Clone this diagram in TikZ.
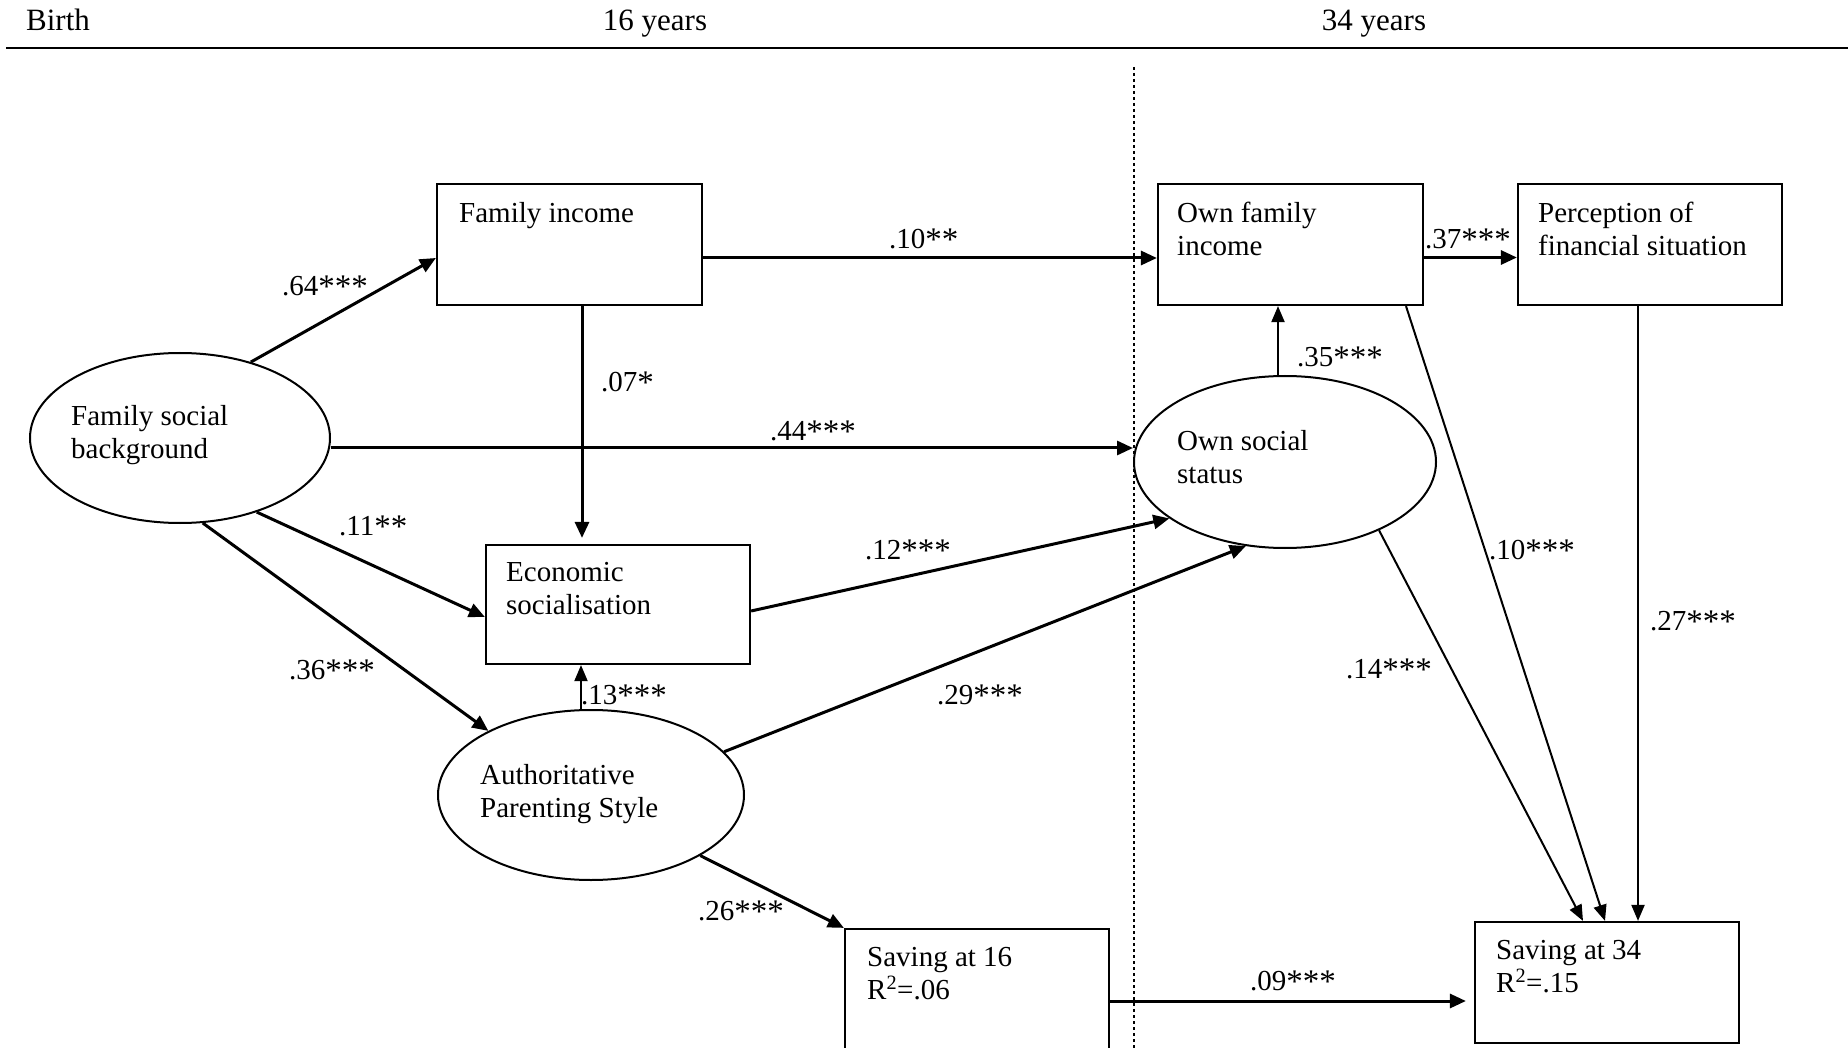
\documentclass[tikz,border=0pt]{standalone}
\usepackage{fontspec}
\setmainfont{Liberation Serif}
\usetikzlibrary{arrows.meta,shapes.geometric,fit}
\newcommand{\sigstars}[1]{{\fontsize{33}{33}\selectfont\raisebox{-2pt}{#1}}}
\begin{document}
\begin{tikzpicture}[x=1pt,y=-1pt,
  every node/.style={font=\fontsize{29}{33}\selectfont, inner sep=0pt},
  box/.style={draw, line width=2.2pt, inner sep=0pt, rectangle},
  oval/.style={draw, ellipse, line width=2pt, inner sep=0pt},
  txt/.style={anchor=base west, align=left},
  lab/.style={anchor=west},
  hdr/.style={font=\fontsize{31}{33}\selectfont},
  arr/.style={-{Triangle[length=16pt,width=14pt]}, line width=3pt},
  tarr/.style={-{Triangle[length=16pt,width=13pt]}, line width=2pt},
]
\useasboundingbox (0,0) rectangle (1848,1048);
\clip (0,0) rectangle (1848,1048);
\fill[white] (0,0) rectangle (1848,1048);

% header
\node[hdr, anchor=base west] (birth) at (26,31) {Birth};
\node[hdr, anchor=base] (y16) at (655,31) {16 years};
\node[hdr, anchor=base] (y34) at (1374,31) {34 years};
\draw[line width=2pt] (6,48) -- (1848,48);
\draw[line width=1.5pt, dash pattern=on 3pt off 3pt] (1134,67) -- (1134,1048);

% boxes
\node[box, fit={(437,184) (702,305)}] (fi) {};
\node[box, fit={(1158,184) (1423,305)}] (ofi) {};
\node[box, fit={(1518,184) (1782,305)}] (pfs) {};
\node[box, fit={(486,545) (750,664)}] (es) {};
\node[box, fit={(845,929) (1109,1075)}] (s16) {};
\node[box, fit={(1475,922) (1739,1043)}] (s34) {};

% ellipses
\node[oval, minimum width=300pt, minimum height=170pt] (fsb) at (180,438) {};
\node[oval, minimum width=302pt, minimum height=172pt] (oss) at (1285,462) {};
\node[oval, minimum width=306pt, minimum height=170pt] (aps) at (591,795) {};

% texts (base anchor = baseline of last line)
\node[txt] (tfi) at (459,223) {Family income};
\node[txt] (tofi) at (1177,256) {Own family\\income};
\node[txt] (tpfs) at (1538,256) {Perception of\\financial situation};
\node[txt] (tfsb) at (71,459) {Family social\\background};
\node[txt] (toss) at (1177,483) {Own social\\status};
\node[txt] (tes) at (506,614) {Economic\\socialisation};
\node[txt] (taps) at (480,817) {Authoritative\\Parenting Style};
\node[txt] (ts16) at (867,999) {Saving at 16\\R\textsuperscript{2}=.06};
\node[txt] (ts34) at (1496,992) {Saving at 34\\R\textsuperscript{2}=.15};

% connectors
\draw[arr] (fsb.47) -- ([yshift=-13.5pt]fi.west);
\draw[arr] ([yshift=-13.5pt]fi.east) -- ([yshift=-13.5pt]ofi.west);
\draw[arr] ([yshift=-13pt]ofi.east) -- ([yshift=-13pt]pfs.west);
\coordinate (a07) at ([xshift=12.5pt]fi.south);
\draw[arr, shorten >=6pt] (a07) -- (a07 |- es.north);
\coordinate (a44) at ([yshift=-10pt]fsb.east);
\draw[arr] (a44) -- (a44 -| oss.west);
\coordinate (a35) at ([xshift=-7pt]oss.north);
\draw[tarr] (a35) -- (a35 |- ofi.south);
\draw[arr] (fsb.-44) -- ([yshift=-12.5pt]es.west);
\draw[arr] (fsb.-75) -- (aps.148);
\coordinate (a13) at ([xshift=-10pt]aps.north);
\draw[tarr] (a13) -- (a13 |- es.south);
\draw[arr] ([yshift=-6.5pt]es.east) -- (oss.206);
\draw[arr] (aps.18) -- (oss.245);
\draw[arr] (aps.-29) -- (s16.north west);
\coordinate (a09) at ([yshift=-18.5pt]s34.west);
\draw[arr, shorten >=8pt] (s16.east |- a09) -- (a09);
\draw[tarr] (oss.-36) -- ([xshift=-24pt]s34.north);
\draw[tarr] ([xshift=115.5pt]ofi.south) -- ([xshift=-2pt]s34.north);
\coordinate (a27) at ([xshift=-12pt]pfs.south);
\draw[tarr] (a27) -- (a27 |- s34.north);

% labels
\node[lab] (l64) at (282,287) {.64\sigstars{***}};
\node[lab] (l10a) at (889,240) {.10\sigstars{**}};
\node[lab] (l37) at (1425,240) {.37\sigstars{***}};
\node[lab] (l07) at (601,383) {.07\sigstars{*}};
\node[lab] (l44) at (770,432) {.44\sigstars{***}};
\node[lab] (l35) at (1297,358) {.35\sigstars{***}};
\node[lab] (l11) at (339,527) {.11\sigstars{**}};
\node[lab] (l12) at (865,551) {.12\sigstars{***}};
\node[lab] (l10b) at (1489,551) {.10\sigstars{***}};
\node[lab] (l36) at (289,671) {.36\sigstars{***}};
\node[lab] (l13) at (581,696) {.13\sigstars{***}};
\node[lab] (l29) at (937,696) {.29\sigstars{***}};
\node[lab] (l27) at (1650,622) {.27\sigstars{***}};
\node[lab] (l14) at (1346,670) {.14\sigstars{***}};
\node[lab] (l26) at (698,912) {.26\sigstars{***}};
\node[lab] (l09) at (1250,982) {.09\sigstars{***}};
\end{tikzpicture}
\end{document}
